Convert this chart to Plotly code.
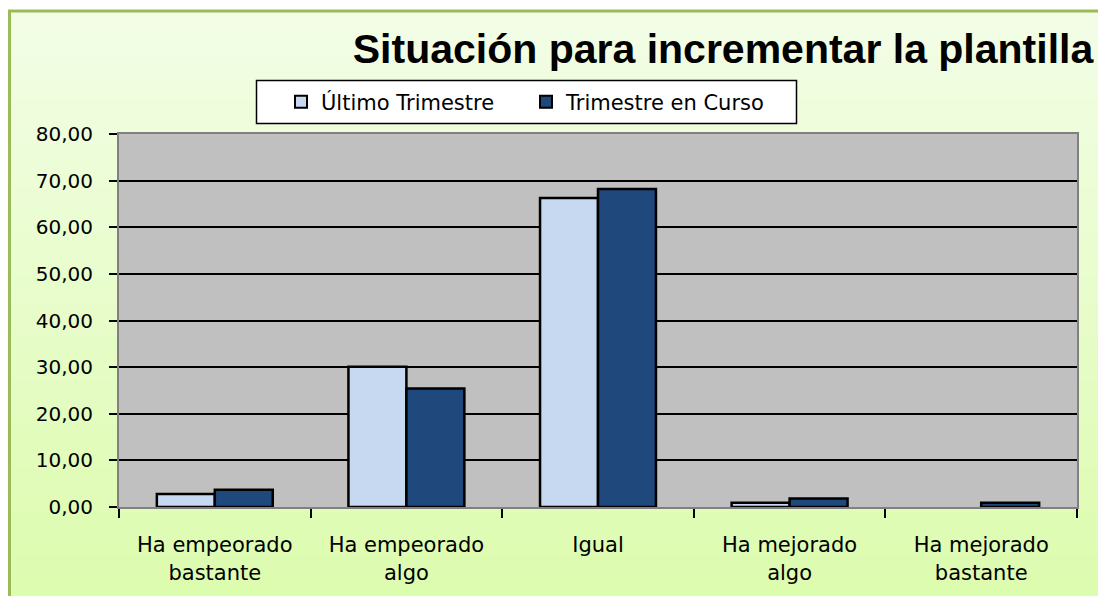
import plotly.graph_objects as go

categories = ["Ha empeorado<br>bastante", "Ha empeorado<br>algo", "Igual",
              "Ha mejorado<br>algo", "Ha mejorado<br>bastante"]
ultimo = [2.8, 30.1, 66.3, 0.9, 0.0]
curso = [3.7, 25.4, 68.2, 1.8, 0.9]
series_names = ["Último Trimestre", "Trimestre en Curso"]
y_ticks = [0, 10, 20, 30, 40, 50, 60, 70, 80]

# page body has an 8px margin, so the figure is drawn offset by 8px
OFF = 8
W, H = 1106 - OFF, 596 - OFF
ML, MT = 119 - OFF, 134 - OFF
MR = W - (1077 - OFF)
MB = H - (507 - OFF)
PW, PH = W - ML - MR, H - MT - MB

def px_x(p):  # p = screen pixel in reference
    return (p - OFF - ML) / PW

def px_y(p):
    return (H - MB - (p - OFF)) / PH

def outline(vals):
    return [2.5 if v > 0 else 0 for v in vals]

fig = go.Figure()
fig.add_trace(go.Bar(x=categories, y=ultimo, name=series_names[0],
                     marker=dict(color="#C6D9F1", line=dict(color="black", width=outline(ultimo)))))
fig.add_trace(go.Bar(x=categories, y=curso, name=series_names[1],
                     marker=dict(color="#1F497D", line=dict(color="black", width=outline(curso)))))

shapes = []
top_c = (243, 253, 230)
bot_c = (220, 252, 174)
y_start, y_end = 11, 600
n = 40
for i in range(n):
    t = i / (n - 1)
    c = tuple(int(round(top_c[k] + (bot_c[k] - top_c[k]) * t)) for k in range(3))
    ya = y_start + (y_end - y_start) * i / n
    yb = y_start + (y_end - y_start) * (i + 1) / n + 1
    shapes.append(dict(type="rect", xref="paper", yref="paper", layer="below",
                       x0=px_x(9), x1=px_x(1120), y0=px_y(ya), y1=px_y(yb),
                       fillcolor="rgb(%d,%d,%d)" % c, line=dict(width=0)))
shapes.append(dict(type="rect", xref="paper", yref="paper", layer="below",
                   x0=px_x(9.5), x1=px_x(1130), y0=px_y(11), y1=px_y(620),
                   fillcolor="rgba(0,0,0,0)", line=dict(color="#9BBB59", width=3)))
shapes.append(dict(type="rect", xref="paper", yref="paper", layer="below",
                   x0=0, x1=1, y0=0, y1=1, fillcolor="#C0C0C0", line=dict(width=0)))
# legend frame
shapes.append(dict(type="rect", xref="paper", yref="paper", layer="above",
                   x0=px_x(256.5), x1=px_x(796.5), y0=px_y(80.5), y1=px_y(123.5),
                   fillcolor="white", line=dict(color="black", width=1.5)))

fig.update_layout(
    width=W, height=H,
    margin=dict(l=ML, r=MR, t=MT, b=MB),
    paper_bgcolor="white",
    plot_bgcolor="#C0C0C0",
    separators=",.",
    shapes=shapes,
    barmode="group",
    bargap=0.395,
    bargroupgap=0,
    title=dict(text="<b>Situación para incrementar la plantilla</b>",
               font=dict(family="Liberation Sans", size=41, color="black"),
               x=(723 - OFF) / W, xref="container", xanchor="center",
               y=1 - (49 - OFF) / H, yref="container", yanchor="middle"),
    legend=dict(orientation="h", x=px_x(281), y=px_y(102), xanchor="left", yanchor="middle",
                bgcolor="rgba(0,0,0,0)", borderwidth=0,
                font=dict(family="DejaVu Sans", size=21, color="black"),
                entrywidth=200, entrywidthmode="pixels",
                itemsizing="constant"),
    showlegend=True,
)
fig.update_xaxes(
    showline=True, linecolor="#808080", linewidth=2, mirror=True,
    ticks="outside", tickson="boundaries", ticklen=9, tickwidth=2, tickcolor="black",
    tickfont=dict(family="DejaVu Sans", size=21, color="black"),
    ticklabelstandoff=18,
    showgrid=False,
)
fig.update_yaxes(
    range=[0, 80], tickvals=y_ticks, tickformat=".2f",
    showline=True, linecolor="#808080", linewidth=2, mirror=True,
    ticks="outside", ticklen=8, tickwidth=2, tickcolor="black",
    tickfont=dict(family="DejaVu Sans", size=20, color="black"),
    ticklabelstandoff=12,
    showgrid=True, gridcolor="black", gridwidth=1.5,
    zeroline=False,
)

fig.write_html("out.html")
